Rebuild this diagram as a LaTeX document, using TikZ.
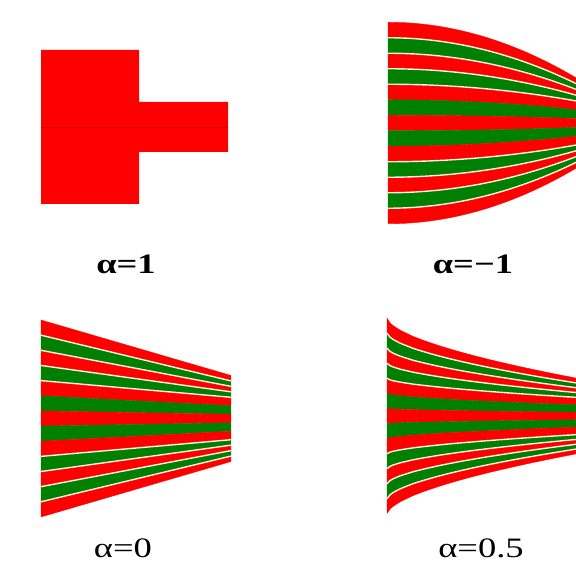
\documentclass[tikz,border=0pt]{standalone}
\usepackage{fontspec}
\setmainfont{Liberation Serif}
\usetikzlibrary{positioning}
\definecolor{fanred}{RGB}{255,0,0}
\definecolor{fangreen}{RGB}{0,128,0}
\definecolor{axisred}{RGB}{200,0,0}
\definecolor{sepcream}{RGB}{250,240,225}
\tikzset{
  declare function={glin(\t)=\t; gsq(\t)=\t*\t; groot(\t)=(\t+0.0001)^0.6;},
  fansep/.style={sepcream,line width=0.8pt},
  alphalabel/.style={font=\fontsize{16}{18}\selectfont},
}
\newcommand{\widelabel}[1]{\scalebox{1.3}[1]{#1}}
% #1 profile, #2 stripe height at the inlet, #3 squeeze of the outlet
\newcommand{\fanstripes}[3]{%
  \foreach \la/\ra/\lb/\rb [count=\i] in {-6.5/-2.84/-5.5/-2.48, -5.5/-2.48/-4.5/-2.12,
      -4.5/-2.12/-3.5/-1.76, -3.5/-1.76/-2.5/-1.40, -2.5/-1.40/-1.5/-0.84,
      -1.5/-0.84/-0.5/-0.28, -0.5/-0.28/0.5/0.28, 0.5/0.28/1.5/0.84,
      1.5/0.84/2.5/1.40, 2.5/1.40/3.5/1.76, 3.5/1.76/4.5/2.12,
      4.5/2.12/5.5/2.48, 5.5/2.48/6.5/2.84}{
    \ifodd\i \def\stripecol{fanred}\else \def\stripecol{fangreen}\fi
    \filldraw[\stripecol,line width=0.2pt]
      plot[domain=0:1,samples=60,variable=\t] ({190*\t},{#2*(\la+(#3*\ra-\la)*#1(\t))})
      -- plot[domain=1:0,samples=60,variable=\t] ({190*\t},{#2*(\lb+(#3*\rb-\lb)*#1(\t))})
      -- cycle;
  }
  \foreach \l/\r in {-5.5/-2.48, -4.5/-2.12, -3.5/-1.76, -2.5/-1.40,
      2.5/1.40, 3.5/1.76, 4.5/2.12, 5.5/2.48}
    \draw[fansep] plot[domain=0:1,samples=60,variable=\t] ({190*\t},{#2*(\l+(#3*\r-\l)*#1(\t))});
}

\begin{document}
\begin{tikzpicture}[x=0.02cm,y=-0.02cm]
  \useasboundingbox (0,0) rectangle (576,563);
  % alpha = 1
  \begin{scope}
    \fill[fanred] (41,50) -- (139,50) -- (139,102) -- (228,102) -- (228,152)
      -- (139,152) -- (139,204) -- (41,204) -- cycle;
    \draw[axisred,line width=0.5pt] (41,127) -- (228,127);
    \node[alphalabel,font=\fontsize{16}{18}\selectfont\bfseries] (lblone) at (126,264) {\widelabel{α=1}};
  \end{scope}
  % alpha = -1
  \begin{scope}[shift={(388,123)}]
    \fanstripes{gsq}{15.5}{1}
  \end{scope}
  \node[alphalabel,font=\fontsize{16}{18}\selectfont\bfseries] (lblmone) at (473,264) {\widelabel{α=−1}};
  % alpha = 0
  \begin{scope}[shift={(41,418.5)}]
    \fanstripes{glin}{15.15}{1}
  \end{scope}
  \node[alphalabel] (lblzero) at (123,548) {\widelabel{α=0}};
  % alpha = 0.5
  \begin{scope}[shift={(387,416)}]
    \fanstripes{groot}{15.1}{0.88}
  \end{scope}
  \node[alphalabel] (lblhalf) at (481,548) {\widelabel{α=0.5}};
\end{tikzpicture}
\end{document}
